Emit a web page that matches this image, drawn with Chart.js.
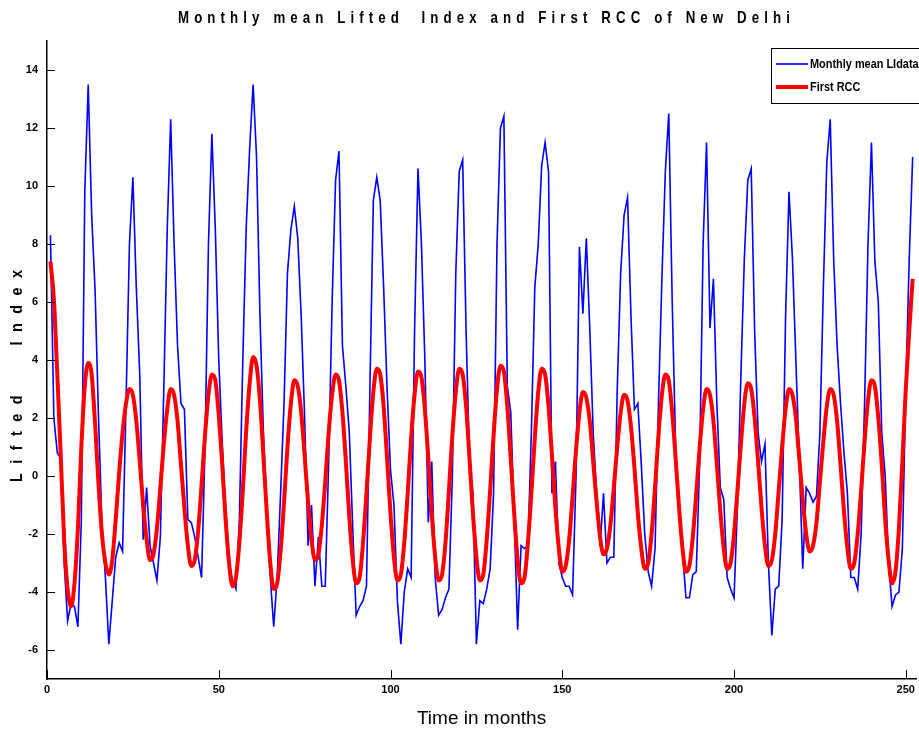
<!DOCTYPE html>
<html>
<head>
<meta charset="utf-8">
<title>Monthly mean Lifted Index and First RCC of New Delhi</title>
<script src="https://cdn.jsdelivr.net/npm/chart.js@4.4.0/dist/chart.umd.min.js"></script>
<style>
  html, body { margin: 0; padding: 0; background: #fff; }
  #wrap { width: 919px; height: 733px; }
</style>
</head>
<body>
<div id="wrap"><canvas id="chart" width="919" height="733"></canvas></div>
<script>
// monthly mean lifted index (blue), one value per month
const liData = [
  8.3, 2.0, 0.8, 0.6, -3.0, -5.0, -4.4, -4.5, -5.2, -1.5, 9.8, 13.5,
  9.0, 6.4, 2.0, -1.7, -3.5, -5.8, -4.3, -2.8, -2.3, -2.6, 2.5, 8.0,
  10.3, 6.5, 3.5, -2.2, -0.4, -2.4, -3.0, -3.6, -2.1, 3.0, 8.5, 12.3,
  8.0, 4.5, 2.5, 2.3, -1.5, -1.6, -2.1, -2.8, -3.5, 1.0, 8.0, 11.8,
  8.5, 4.0, 1.2, -1.2, -3.0, -3.6, -3.9, -1.5, 4.0, 8.6, 11.3, 13.5,
  11.0, 5.5, 1.5, -1.4, -3.5, -5.2, -3.5, -0.6, 2.5, 7.0, 8.5, 9.3,
  8.2, 5.5, 2.0, -2.4, -1.0, -3.8, -2.1, -3.8, -3.8, 0.5, 6.0, 10.2,
  11.2, 4.5, 3.1, 1.5, -1.8, -4.8, -4.5, -4.3, -3.8, 3.0, 9.5, 10.3,
  9.5, 6.5, 3.0, 0.2, -1.0, -4.3, -5.8, -4.0, -3.2, -3.5, 5.0, 10.6,
  8.0, 4.0, -1.6, 0.5, -3.5, -4.8, -4.6, -4.2, -3.9, 0.0, 7.0, 10.5,
  10.9, 5.0, 0.5, -0.6, -5.8, -4.3, -4.4, -3.9, -3.2, -0.6, 8.0, 12.0,
  12.4, 3.1, 2.2, -1.4, -5.3, -2.4, -2.5, -2.4, 1.5, 6.5, 8.0, 10.7,
  11.5, 10.5, -0.6, 0.5, -3.0, -3.5, -3.8, -3.8, -4.1, 0.0, 7.9, 5.6,
  8.2, 5.1, 1.5, -0.6, -2.4, -0.6, -3.0, -2.8, -2.8, 3.0, 7.0, 9.0,
  9.6, 5.5, 2.3, 2.5, 0.4, -2.0, -3.3, -3.8, -2.5, 2.5, 6.8, 10.5,
  12.5, 6.0, 1.0, -1.2, -2.6, -4.2, -4.2, -3.4, -3.3, 0.5, 8.0, 11.5,
  5.1, 6.8, 2.5, -0.4, -0.8, -3.5, -3.9, -4.2, -1.0, 3.5, 7.5, 10.2,
  10.6, 5.0, 1.5, 0.5, 1.1, -3.0, -5.5, -3.9, -3.8, -1.5, 5.5, 9.8,
  7.5, 4.0, 0.5, -3.2, -0.4, -0.6, -0.9, -0.7, 1.5, 6.5, 10.8, 12.3,
  7.5, 4.5, 2.5, 0.8, -0.6, -3.5, -3.5, -3.9, -2.0, 2.5, 8.0, 11.5,
  7.4, 6.0, 1.5, 0.0, -3.0, -4.5, -4.1, -4.0, -2.5, 3.0, 7.5, 11.0
];

// first reconstructed component (red)
const rccData = [
  7.4, 6.1, 3.5, 0.7, -2.2, -3.9, -4.5, -3.7, -1.8, 1.0, 3.1, 3.9,
  3.5, 1.8, -0.3, -2.0, -3.0, -3.4, -2.9, -1.5, 0.1, 1.5, 2.5, 3.0,
  2.8, 1.9, 0.5, -1.0, -2.2, -2.9, -2.7, -1.8, -0.4, 1.1, 2.3, 3.0,
  2.8, 1.9, 0.4, -1.1, -2.4, -3.1, -2.9, -1.9, -0.3, 1.4, 2.8, 3.5,
  3.3, 2.1, 0.4, -1.5, -3.0, -3.8, -3.5, -2.3, -0.5, 1.6, 3.2, 4.1,
  3.8, 2.6, 0.7, -1.3, -3.0, -3.9, -3.7, -2.6, -0.9, 1.0, 2.5, 3.3,
  3.1, 2.2, 0.7, -0.9, -2.2, -2.9, -2.7, -1.7, -0.2, 1.5, 2.8, 3.5,
  3.3, 2.2, 0.5, -1.4, -2.9, -3.7, -3.5, -2.3, -0.6, 1.3, 2.9, 3.7,
  3.5, 2.4, 0.6, -1.3, -2.8, -3.6, -3.4, -2.3, -0.6, 1.3, 2.8, 3.6,
  3.4, 2.3, 0.6, -1.3, -2.8, -3.6, -3.4, -2.3, -0.5, 1.4, 2.9, 3.7,
  3.5, 2.4, 0.6, -1.3, -2.8, -3.6, -3.4, -2.2, -0.5, 1.4, 3.0, 3.8,
  3.6, 2.4, 0.6, -1.3, -2.9, -3.7, -3.5, -2.3, -0.6, 1.3, 2.9, 3.7,
  3.5, 2.4, 0.7, -1.1, -2.5, -3.3, -3.1, -2.2, -0.7, 0.9, 2.2, 2.9,
  2.7, 1.9, 0.5, -0.9, -2.1, -2.7, -2.5, -1.7, -0.4, 1.0, 2.2, 2.8,
  2.6, 1.7, 0.3, -1.3, -2.5, -3.2, -3.0, -2.0, -0.4, 1.4, 2.8, 3.5,
  3.3, 2.2, 0.6, -1.1, -2.5, -3.3, -3.1, -2.1, -0.6, 1.0, 2.3, 3.0,
  2.8, 1.9, 0.4, -1.2, -2.5, -3.2, -3.0, -2.0, -0.5, 1.1, 2.5, 3.2,
  3.0, 2.0, 0.5, -1.1, -2.4, -3.1, -2.9, -2.0, -0.5, 1.0, 2.3, 3.0,
  2.8, 2.0, 0.6, -0.8, -2.0, -2.6, -2.4, -1.6, -0.2, 1.2, 2.4, 3.0,
  2.8, 1.9, 0.4, -1.2, -2.5, -3.2, -3.0, -2.0, -0.5, 1.2, 2.6, 3.3,
  3.1, 2.0, 0.4, -1.5, -2.9, -3.7, -3.3, -1.8, 0.5, 3.0, 5.0, 6.8
];

const months = liData.map((_, i) => i + 1);
const xTicks = [0, 50, 100, 150, 200, 250];
const yTicks = [-6, -4, -2, 0, 2, 4, 6, 8, 10, 12, 14];

const titleText = 'Monthly mean Lifted  Index and First RCC of New Delhi';
const yTitleText = 'Lifted   Index';
const sans = '"Liberation Sans", Arial, sans-serif';

// squeezed text, the original uses a narrow face that isn't installed here
function narrowText(ctx, text, x, y, squeeze, width) {
  ctx.save();
  ctx.translate(x, y);
  ctx.scale(squeeze, 1);
  if (width) {
    ctx.letterSpacing = '0px';
    const w = ctx.measureText(text).width;
    ctx.letterSpacing = ((width / squeeze - w) / (text.length - 1)).toFixed(2) + 'px';
  }
  ctx.fillText(text, 0, 0);
  ctx.restore();
}

// spaced-out title, y label, boxed legend and inward tick marks
const decor = {
  id: 'decor',
  afterDraw(chart) {
    const { ctx, chartArea, scales } = chart;
    ctx.save();

    ctx.strokeStyle = '#000';
    ctx.lineWidth = 1;
    ctx.beginPath();
    yTicks.forEach(v => {
      const py = Math.round(scales.y.getPixelForValue(v)) + 0.5;
      ctx.moveTo(chartArea.left, py);
      ctx.lineTo(chartArea.left + 8, py);
    });
    xTicks.forEach(v => {
      const px = Math.round(scales.x.getPixelForValue(v)) + 0.5;
      ctx.moveTo(px, chartArea.bottom);
      ctx.lineTo(px, chartArea.bottom - 9);
    });
    ctx.stroke();

    ctx.fillStyle = '#000';
    ctx.textAlign = 'left';
    ctx.textBaseline = 'middle';

    ctx.font = 'bold 17px ' + sans;
    narrowText(ctx, titleText, 178, 18, 0.78, 612);

    ctx.save();
    ctx.translate(18, 482);
    ctx.rotate(-Math.PI / 2);
    ctx.font = 'bold 16px ' + sans;
    narrowText(ctx, yTitleText, 0, 0, 0.9, 212);
    ctx.restore();

    // legend
    ctx.fillStyle = '#fff';
    ctx.fillRect(771.5, 48.5, 150, 55);
    ctx.strokeStyle = '#000';
    ctx.lineWidth = 1;
    ctx.strokeRect(771.5, 48.5, 150, 55);
    ctx.font = 'bold 13px ' + sans;
    chart.data.datasets.forEach((ds, i) => {
      const ly = 64 + i * 23;
      ctx.strokeStyle = ds.borderColor;
      ctx.lineWidth = ds.borderWidth;
      ctx.beginPath();
      ctx.moveTo(776, ly);
      ctx.lineTo(808, ly);
      ctx.stroke();
      ctx.fillStyle = '#000';
      narrowText(ctx, ds.label, 810, ly, 0.84);
    });

    ctx.restore();
  }
};

new Chart(document.getElementById('chart'), {
  type: 'line',
  data: {
    datasets: [
      {
        label: 'Monthly mean LIdata',
        data: months.map((m, i) => ({ x: m, y: liData[i] })),
        borderColor: '#0000ff',
        borderWidth: 1.6,
        pointRadius: 0,
        tension: 0,
        order: 2
      },
      {
        label: 'First RCC',
        data: months.map((m, i) => ({ x: m, y: rccData[i] })),
        borderColor: '#ff0000',
        borderWidth: 4,
        pointRadius: 0,
        tension: 0.4,
        cubicInterpolationMode: 'monotone',
        order: 1
      }
    ]
  },
  options: {
    responsive: false,
    animation: false,
    devicePixelRatio: 1,
    layout: { padding: { top: 41, right: 2, left: 0, bottom: 0 } },
    plugins: {
      legend: { display: false },
      title: { display: false },
      tooltip: { enabled: false }
    },
    scales: {
      x: {
        type: 'linear',
        min: 0,
        max: 253,
        afterBuildTicks: axis => { axis.ticks = xTicks.map(v => ({ value: v })); },
        afterFit: axis => { axis.height = 54; },
        grid: { display: false, drawTicks: false },
        border: { display: true, color: '#000', width: 1.5 },
        ticks: {
          color: '#000',
          padding: 4,
          maxRotation: 0,
          autoSkip: false,
          font: { family: sans, size: 11, weight: 'bold' }
        },
        title: {
          display: true,
          text: 'Time in months',
          color: '#000',
          padding: { top: 2, bottom: 3 },
          font: { family: sans, size: 19 }
        }
      },
      y: {
        min: -7,
        max: 15,
        afterBuildTicks: axis => { axis.ticks = yTicks.map(v => ({ value: v })); },
        afterFit: axis => { axis.width = 47; },
        grid: { display: false, drawTicks: false },
        border: { display: true, color: '#000', width: 1.5 },
        ticks: {
          color: '#000',
          padding: 9,
          font: { family: sans, size: 11, weight: 'bold' }
        }
      }
    }
  },
  plugins: [decor]
});
</script>
</body>
</html>
